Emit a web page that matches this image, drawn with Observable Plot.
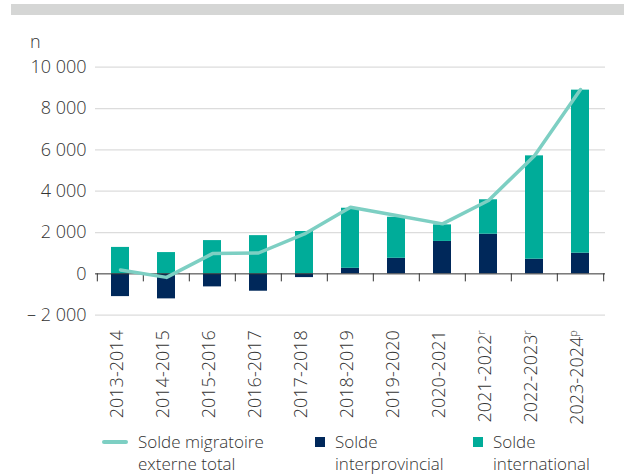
<!DOCTYPE html>
<html>
<head>
<meta charset="utf-8">
<script src="https://cdn.jsdelivr.net/npm/d3@7"></script>
<script src="https://cdn.jsdelivr.net/npm/@observablehq/plot@0.6"></script>
<style>
  html, body { margin: 0; padding: 0; background: #fff; }
  #wrap { position: relative; width: 624px; height: 474px; overflow: hidden; font-family: "Open Sans", sans-serif; font-weight: 300; color: #333; }
  #topbar { position: absolute; left: 11px; top: 3.5px; width: 613px; height: 11px; background: #d5d6d5; }
  #unit { position: absolute; left: 30px; top: 31px; font-size: 18px; line-height: 20px; }
  .leg { position: absolute; font-size: 17px; line-height: 21.5px; white-space: nowrap; }
  .sw { position: absolute; }
  svg { position: absolute; left: 0; top: 0; }
</style>
</head>
<body>
<div id="wrap">
  <div id="topbar"></div>
  <div id="unit">n</div>
  <div id="chart"></div>
  <div class="sw" style="left:102px; top:440px; width:26px; height:4px; background:#7dcfc3; border-radius:2px;"></div>
  <div class="leg" style="left:138px; top:431px;">Solde migratoire<br>externe total</div>
  <div class="sw" style="left:315px; top:437px; width:10px; height:10px; background:#00285a;"></div>
  <div class="leg" style="left:335px; top:431px;">Solde<br>interprovincial</div>
  <div class="sw" style="left:473px; top:437px; width:10px; height:10px; background:#00ac99;"></div>
  <div class="leg" style="left:493px; top:431px;">Solde<br>international</div>
</div>
<script>
const categories = ["2013-2014", "2014-2015", "2015-2016", "2016-2017", "2017-2018", "2018-2019", "2019-2020", "2020-2021", "2021-2022\u02B3", "2022-2023\u02B3", "2023-2024\u1D56"];
const interprovincial = [-1100, -1210, -630, -840, -180, 270, 755, 1570, 1920, 710, 1000];
const international = [1280, 1030, 1610, 1850, 2050, 2905, 1985, 800, 1665, 5000, 7890];
const totalNet = [190, -170, 980, 1010, 1930, 3220, 2820, 2420, 3550, 5720, 8920];
const yTicks = [-2000, 0, 2000, 4000, 6000, 8000, 10000];
const seriesNames = ["Solde interprovincial", "Solde international"];

const barData = categories.flatMap((c, i) => [
  {period: c, type: seriesNames[0], value: interprovincial[i]},
  {period: c, type: seriesNames[1], value: international[i]}
]);
const lineData = categories.map((c, i) => ({period: c, value: totalNet[i]}));

const W = 624, H = 430, ML = 95, MR = 19, MT = 66.7, MB = 115.3;
const step = (W - ML - MR) / categories.length;

const group = d3.format(",");
const fmtNum = d => group(Math.abs(d)).replace(/,/g, "\u00a0");
const fmtTick = d => d < 0 ? "\u2013\u00a0" + fmtNum(d) : fmtNum(d);

const chart = Plot.plot({
  width: W, height: H,
  marginLeft: ML, marginRight: MR, marginTop: MT, marginBottom: MB,
  style: {fontFamily: "Open Sans, sans-serif", fontSize: "18px", fontWeight: 300, color: "#333", background: "transparent"},
  x: {type: "band", domain: categories, paddingInner: 0.6, paddingOuter: 0.3, label: null},
  y: {domain: [-2000, 10000], label: null},
  color: {domain: seriesNames, range: ["#00285a", "#00ac99"]},
  marks: [
    Plot.ruleY(yTicks.filter(d => d !== 0), {stroke: "#dcdcdc", strokeWidth: 1.3}),
    Plot.barY(barData, {x: "period", y: "value", fill: "type", order: seriesNames}),
    Plot.ruleY([0], {stroke: "#333", strokeWidth: 1}),
    Plot.ruleX(categories, {x: d => d, y1: 0, y2: 0, insetBottom: -8, dx: -step / 2, stroke: "#333"}),
    Plot.ruleX(categories.slice(-1), {x: d => d, y1: 0, y2: 0, insetBottom: -8, dx: step / 2, stroke: "#333"}),
    Plot.lineY(lineData, {x: "period", y: "value", stroke: "#7dcfc3", strokeWidth: 3.5, strokeLinejoin: "round", strokeLinecap: "round"}),
    Plot.axisY({ticks: yTicks, tickSize: 0, tickPadding: 9, tickFormat: fmtTick, label: null}),
    Plot.axisX({tickSize: 0, tickPadding: 15, tickRotate: -90, dx: -3, label: null})
  ]
});
// render the trailing r / p markers as small superscripts
const supMap = {"\u02B3": "r", "\u1D56": "p"};
chart.querySelectorAll("text").forEach(t => {
  const s = t.textContent;
  const last = s.slice(-1);
  if (supMap[last] && t.children.length === 0) {
    t.textContent = s.slice(0, -1);
    const ts = document.createElementNS("http://www.w3.org/2000/svg", "tspan");
    ts.setAttribute("font-size", "11px");
    ts.setAttribute("dy", "-0.55em");
    ts.textContent = supMap[last];
    t.appendChild(ts);
  }
});
document.getElementById("chart").appendChild(chart);
</script>
</body>
</html>
